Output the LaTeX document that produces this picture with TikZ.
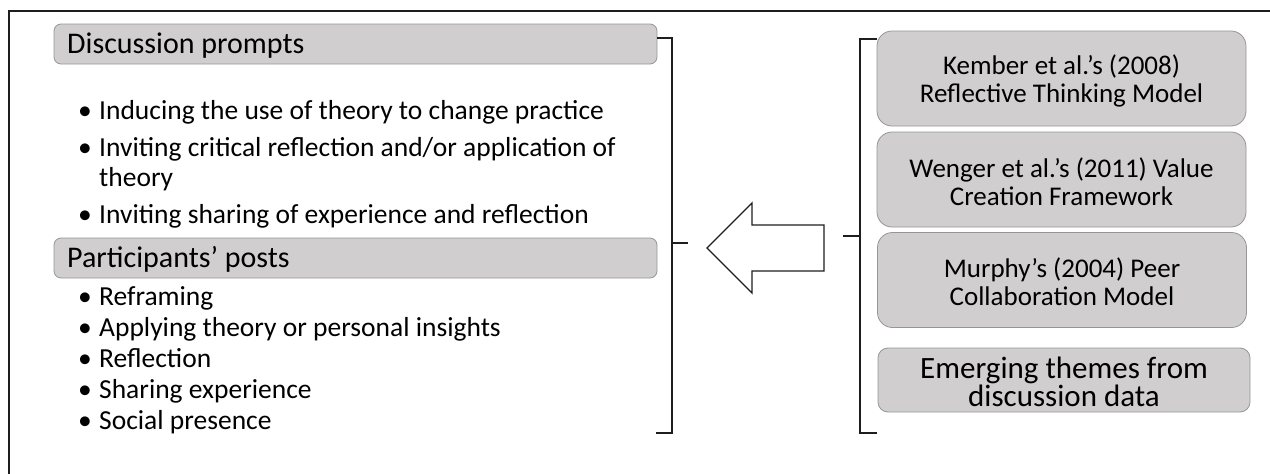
\documentclass[tikz,border=0pt]{standalone}
\usepackage{fontspec}
\setmainfont{Carlito}
\definecolor{boxfill}{RGB}{208,206,206}
\definecolor{boxline}{RGB}{150,150,150}
\definecolor{ink}{RGB}{30,30,30}
\newcommand\bulmark{\makebox[21pt][l]{\textbullet}}
\tikzset{
  hdrbox/.style={draw=boxline, fill=boxfill, rounded corners=7pt, line width=0.8pt,
    inner sep=0pt, outer sep=0pt, anchor=north west, minimum width=603pt, minimum height=40pt},
  hdrtext/.style={anchor=base west, inner sep=0pt, font=\fontsize{30}{32}\selectfont},
  btext/.style={anchor=base west, inner sep=0pt, font=\fontsize{27.5}{30}\selectfont},
  thbox/.style={draw=boxline, fill=boxfill, rounded corners=15pt, line width=0.8pt,
    inner sep=0pt, outer sep=0pt, minimum width=369pt, minimum height=95pt},
  thtext/.style={align=center, inner sep=0pt, font=\fontsize{27}{28}\selectfont},
  embox/.style={draw=boxline, fill=boxfill, rounded corners=10pt, line width=0.8pt,
    inner sep=0pt, outer sep=0pt, minimum width=372pt, minimum height=64pt},
  emtext/.style={align=center, inner sep=0pt, font=\fontsize{31}{23}\selectfont},
  bracket/.style={draw=ink, line width=1.4pt},
  hollowarrow/.style={draw=ink, line width=1.3pt, fill=white, line join=miter},
  frame/.style={draw=ink, line width=1.3pt}
}
\begin{document}
\begin{tikzpicture}[x=1pt,y=-1pt]
\useasboundingbox (0,0) rectangle (1270,474);
% outer frame
\draw[frame] (9,474) -- (9,11) -- (1270,11);

% left column
\node[hdrbox] (dp) at (54,24) {};
\node[hdrtext] (dpt) at (67,53) {Discussion prompts};
\node[btext] (d1) at (78,119) {\bulmark Inducing the use of theory to change practice};
\node[btext] (d2) at (78,156) {\bulmark Inviting critical reflection and/or application of};
\node[btext] (d2b) at (99,186) {theory};
\node[btext] (d3) at (78,223) {\bulmark Inviting sharing of experience and reflection};

\node[hdrbox] (pp) at (54,238) {};
\node[hdrtext] (ppt) at (67,267) {Participants’ posts};
\node[btext] (p1) at (78,305) {\bulmark Reframing};
\node[btext] (p2) at (78,336) {\bulmark Applying theory or personal insights};
\node[btext] (p3) at (78,367) {\bulmark Reflection};
\node[btext] (p4) at (78,398) {\bulmark Sharing experience};
\node[btext] (p5) at (78,429) {\bulmark Social presence};

% left bracket
\draw[bracket] (657,38) -- (672,38) -- (672,433) -- (656,433);
\draw[bracket] (672,243) -- (688,243);

% hollow arrow
\draw[hollowarrow] (707,248) -- (752,203) -- (752,225) -- (824,225) -- (824,271)
  -- (752,271) -- (752,293) -- cycle;

% right bracket
\draw[bracket] (877,39) -- (860,39) -- (860,433) -- (877,433);
\draw[bracket] (843,236) -- (860,236);

% right column
\node[thbox] (kem) at (1061.5,78.5) {};
\node[thtext] (kemt) at (1061.5,80.5) {Kember et al.’s (2008)\\Reflective Thinking Model};
\node[thbox] (wen) at (1061.5,179.5) {};
\node[thtext] (went) at (1061.5,181.5) {Wenger et al.’s (2011) Value\\Creation Framework};
\node[thbox] (mur) at (1062,280) {};
\node[thtext] (murt) at (1062,282) {Murphy’s (2004) Peer\\Collaboration Model};
\node[embox] (emg) at (1064,380) {};
\node[emtext] (emgt) at (1064,382) {Emerging themes from\\discussion data};
\end{tikzpicture}
\end{document}
